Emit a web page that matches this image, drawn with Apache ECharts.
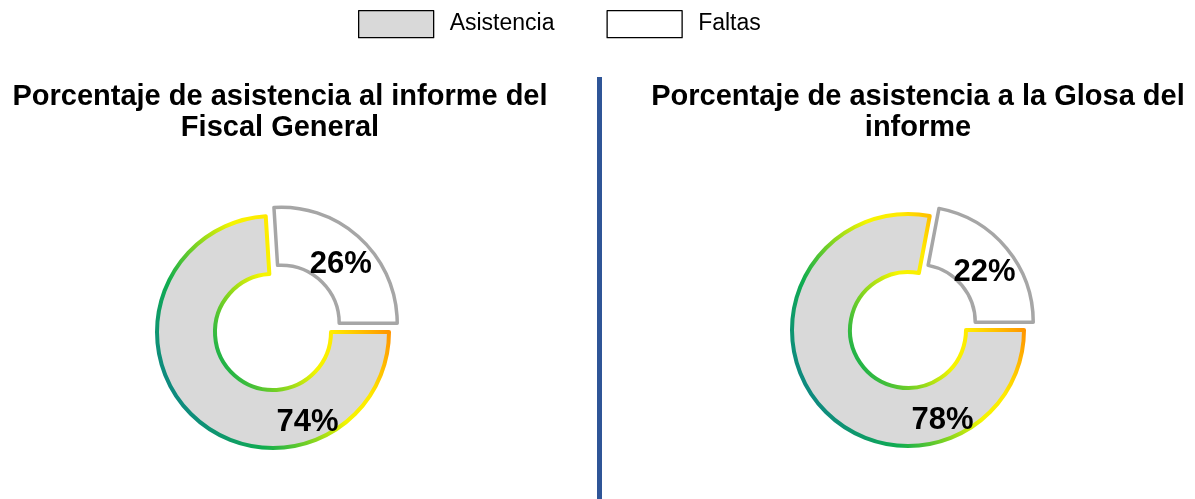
<!DOCTYPE html>
<html>
<head>
<meta charset="utf-8">
<script src="https://cdn.jsdelivr.net/npm/echarts@6/dist/echarts.min.js"></script>
<style>
  html, body { margin: 0; padding: 0; background: #fff; }
  #chart { width: 1195px; height: 499px; }
</style>
</head>
<body>
<div id="chart"></div>
<script>
// datos
const categorias = ['Asistencia', 'Faltas'];
const informeFiscal = [74, 26];
const glosaInforme = [78, 22];
const titulos = [
  'Porcentaje de asistencia al informe del\nFiscal General',
  'Porcentaje de asistencia a la Glosa del\ninforme'
];

const chart = echarts.init(document.getElementById('chart'));

// borde degradado del anillo de asistencia
const bordeAsistencia = new echarts.graphic.LinearGradient(0.07, 0.75, 0.93, 0.25, [
  { offset: 0, color: '#0E8A80' },
  { offset: 0.22, color: '#10AD4F' },
  { offset: 0.4, color: '#7CD322' },
  { offset: 0.58, color: '#F5F500' },
  { offset: 0.72, color: '#FFEA00' },
  { offset: 0.95, color: '#FF8C00' }
]);

function serieDona(nombre, valores, cx, cy) {
  return {
    name: nombre,
    type: 'pie',
    center: [cx, cy],
    radius: [58, 116],
    startAngle: 0,
    clockwise: true,
    selectedMode: 'single',
    selectedOffset: 12,
    animation: false,
    emphasis: { disabled: true },
    label: {
      show: true,
      position: 'inside',
      formatter: p => p.value + '%',
      fontSize: 31,
      fontWeight: 'bold',
      color: '#000',
      fontFamily: 'Liberation Sans'
    },
    labelLine: { show: false },
    labelLayout: function (params) {
      if (params.dataIndex !== 0) return { dx: -2, dy: 7 };
      // etiqueta de asistencia abajo a la derecha
      const a = 69 * Math.PI / 180;
      return { x: cx + 96.5 * Math.cos(a), y: cy + 96.5 * Math.sin(a) };
    },
    data: categorias.map((c, i) => ({
      name: c,
      value: valores[i],
      selected: i === 1,
      itemStyle: i === 0
        ? { color: '#D9D9D9', borderColor: bordeAsistencia, borderWidth: 4 }
        : { color: '#FFFFFF', borderColor: '#A6A6A6', borderWidth: 3.5 }
    }))
  };
}

const estiloTitulo = { fontSize: 29, fontWeight: 'bold', color: '#000', lineHeight: 31, fontFamily: 'Liberation Sans' };

const option = {
  backgroundColor: '#fff',
  textStyle: { fontFamily: 'Liberation Sans' },
  title: [
    { text: titulos[0], left: 280, top: 81, padding: 0, textAlign: 'center', textStyle: estiloTitulo },
    { text: titulos[1], left: 918, top: 81, padding: 0, textAlign: 'center', textStyle: estiloTitulo }
  ],
  legend: {
    data: categorias,
    left: 358,
    top: 10,
    padding: 0,
    itemWidth: 75,
    itemHeight: 27,
    itemGap: 52,
    selectedMode: false,
    icon: 'rect',
    itemStyle: { borderColor: '#000', borderWidth: 1.3 },
    textStyle: { fontSize: 23, color: '#000', padding: [0, 0, 0, 11], fontFamily: 'Liberation Sans' }
  },
  graphic: [
    {
      type: 'line',
      shape: { x1: 599.5, y1: 77, x2: 599.5, y2: 499 },
      style: { stroke: '#2F5597', lineWidth: 5 }
    }
  ],
  series: [
    serieDona('Informe del Fiscal General', informeFiscal, 273, 332),
    serieDona('Glosa del informe', glosaInforme, 908, 330)
  ]
};

chart.setOption(option);
window.addEventListener('resize', () => chart.resize());
</script>
</body>
</html>
